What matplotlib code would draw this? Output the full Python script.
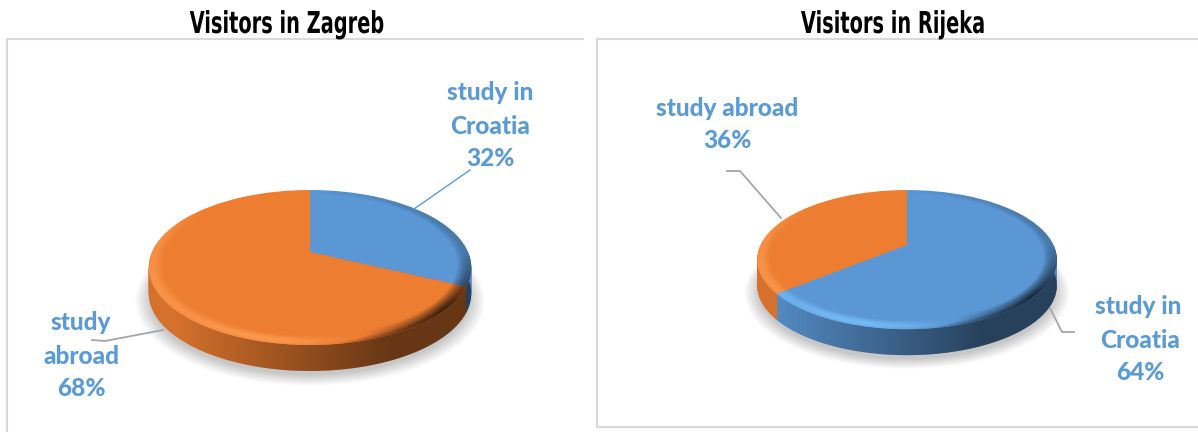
import matplotlib
matplotlib.use('Agg')
import matplotlib.pyplot as plt
import numpy as np
from matplotlib.patches import Circle
from matplotlib.path import Path
from matplotlib.patheffects import AbstractPathEffect
from matplotlib.transforms import Affine2D, Transform

zagreb_title = 'Visitors in Zagreb'
rijeka_title = 'Visitors in Rijeka'
zagreb_values = [32, 68]
rijeka_values = [64, 36]
slice_names = ['study in Croatia', 'study abroad']
slice_colors = ['#5B97D5', '#ED7D31']
lit_colors = ['#7CC6FF', '#FFA258']

BLUE = '#5B9BD5'
GREY = '#A6A6A6'
FRAME = '#D9D9D9'


class Tilt(Transform):
    # flat pie -> tilted disc in image pixels, with a bit of perspective
    input_dims = 2
    output_dims = 2
    is_separable = False
    has_inverse = False

    def __init__(self, cx, cy, rx, sy, k, drop=0):
        super().__init__()
        self.cx, self.cy, self.rx, self.sy, self.k, self.drop = cx, cy, rx, sy, k, drop

    def transform_non_affine(self, values):
        v = np.asarray(values, dtype=float)
        w = 1 + self.k * v[:, 1]
        return np.column_stack([self.cx + self.rx * v[:, 0] / w,
                                self.cy - self.sy * v[:, 1] / w + self.drop])


class Tall(AbstractPathEffect):
    # the title font is a tall narrow one, nothing installed is that narrow
    def __init__(self, sy):
        super().__init__()
        self.sy = sy

    def draw_path(self, renderer, gc, tpath, affine, rgbFace=None):
        renderer.draw_path(gc, tpath, Affine2D().scale(1, self.sy) + affine, rgbFace)


def mix(color, factor):
    rgb = np.array(matplotlib.colors.to_rgb(color))
    return tuple(rgb * factor)


def draw_pie(ax, values, cx, cy, rx, sy, k, depth):
    z = 1
    # shadow on the floor
    for r in np.linspace(1.08, 0.99, 14):
        ax.add_patch(Circle((0, 0), r, fc='black', ec='none', alpha=0.016, zorder=z,
                            transform=Tilt(cx, cy, rx, sy, k, depth + 5) + ax.transData))
    z += 1

    # side wall, stacked copies of the pie
    side = [mix(c, 0.9) for c in slice_colors]
    for d in range(depth, 0, -1):
        wedges, _ = ax.pie(values, colors=side, startangle=90, counterclock=False,
                           wedgeprops={'zorder': z, 'lw': 0})
        for w in wedges:
            w.set_transform(Tilt(cx, cy, rx, sy, k, d) + ax.transData)
        z += 1

    base = Tilt(cx, cy, rx, sy, k)
    t = np.linspace(0, 2 * np.pi, 361)
    rim = base.transform_non_affine(np.column_stack([np.cos(t), np.sin(t)]))
    x0, x1 = rim[:, 0].min(), rim[:, 0].max()
    y0, y1 = rim[:, 1].min(), rim[:, 1].max() + depth
    xx, yy = np.meshgrid(np.arange(x0 - 1, x1 + 1), np.arange(y0 - 1, y1 + 1))
    u = (xx - x0) / (x1 - x0)
    low = np.clip((yy - cy) / (rim[:, 1].max() - cy), 0, 1)
    extent = (x0 - 1.5, x1 + 0.5, y1 + 0.5, y0 - 1.5)

    # back from pixels to the flat pie, to know radius and slice under a pixel
    yp = (cy - yy) / sy
    fy = yp / (1 - k * yp)
    fx = (xx - cx) / rx * (1 + k * fy)
    rho = np.hypot(fx, fy)
    ang = np.arctan2(fx, fy) % (2 * np.pi)
    first = ang < 2 * np.pi * values[0] / sum(values)

    # side wall gets darker to the right
    tlow = np.linspace(np.pi, 2 * np.pi, 181)
    lower = base.transform_non_affine(np.column_stack([np.cos(tlow), np.sin(tlow)]))
    wall = np.vstack([lower, lower[::-1] + [0, depth]])
    wall_path = Path(np.vstack([wall, wall[0]]), closed=True)
    img = np.zeros(xx.shape + (4,))
    img[..., 3] = np.clip((u - 0.08) / 0.67, 0, 1) * 0.52
    im = ax.imshow(img, extent=extent, aspect='auto', zorder=z, interpolation='bilinear')
    im.set_clip_path(wall_path, ax.transData)
    z += 1

    # bevel ring: bright lower left, dark lower right, rolls off at the outer edge
    wedges, _ = ax.pie(values, colors=slice_colors, startangle=90, counterclock=False,
                       wedgeprops={'zorder': z, 'lw': 0})
    for w in wedges:
        w.set_transform(base + ax.transData)
    z += 1
    light = np.exp(-((u - 0.33) / 0.3) ** 2) * np.clip(low * 1.3, 0, 1) * 0.85
    left = np.exp(-(u / 0.12) ** 2) * 0.5
    dark = np.clip((u - 0.5) / 0.42, 0, 1) * np.clip((low + 0.3) * 1.1, 0, 1) * 0.6
    edge = np.clip((rho - 0.965) / 0.035, 0, 1) * low * 0.3
    shine = light + left
    dark = dark + edge
    img = np.zeros(xx.shape + (4,))
    lit = np.array([matplotlib.colors.to_rgb(c) for c in lit_colors])
    brighter = shine > dark
    img[..., :3] = np.where(first[..., None], lit[0], lit[1]) * brighter[..., None]
    img[..., 3] = np.clip(np.abs(shine - dark), 0, 1)
    im = ax.imshow(img, extent=extent, aspect='auto', zorder=z, interpolation='nearest')
    im.set_clip_path(Path(rim, closed=True), ax.transData)
    z += 1

    # flat top, soft edge going in
    for r, a in [(0.965, 0.15), (0.95, 0.3), (0.935, 0.5), (0.92, 1)]:
        wedges, _ = ax.pie(values, colors=slice_colors, startangle=90, counterclock=False,
                           radius=r, wedgeprops={'zorder': z, 'lw': 0, 'alpha': a})
        for w in wedges:
            w.set_transform(base + ax.transData)
        z += 1


def pct(v):
    return '%d%%' % v


fig = plt.figure(figsize=(11.98, 4.32), dpi=100)
ax = fig.add_axes([0, 0, 1, 1])

draw_pie(ax, zagreb_values, 310, 252, 158, 74.4, 0.2, 26)
draw_pie(ax, rijeka_values, 907, 245, 146.5, 66.5, 0.21, 26)

ax.set_aspect('auto')
ax.set_xlim(0, 1198)
ax.set_ylim(432, 0)
ax.axis('off')

# chart frames
ax.plot([7, 7, 583], [432, 39, 39], color=FRAME, lw=1.5, zorder=50, clip_on=False)
ax.plot([1198, 597, 597, 1198], [39, 39, 427, 427], color=FRAME, lw=1.5, zorder=50)

# leader lines
ax.plot([414, 470], [209, 170], color=BLUE, lw=1, zorder=60)
ax.plot([92, 105, 163], [340, 341, 330], color=GREY, lw=1.3, zorder=60)
ax.plot([727, 740, 781], [171, 171, 218], color=GREY, lw=1.3, zorder=60)
ax.plot([1050, 1062, 1074], [308, 332, 332], color=GREY, lw=1.3, zorder=60)

title_font = {'family': 'DejaVu Sans', 'stretch': 'condensed', 'weight': 'bold',
              'fontsize': 15.5, 'color': 'black', 'ha': 'center', 'va': 'baseline',
              'path_effects': [Tall(1.4)]}
ax.text(287, 33, zagreb_title, zorder=70, **title_font)
ax.text(893, 33, rijeka_title, zorder=70, **title_font)

label_font = {'family': 'Lato', 'weight': 'black', 'fontsize': 17.6, 'color': BLUE,
              'ha': 'center', 'va': 'center'}
for x, y, s in [(490, 93, 'study in'), (490, 126, 'Croatia'), (490, 158, pct(zagreb_values[0])),
                (81, 323, 'study'), (81, 356, 'abroad'), (81, 389, pct(zagreb_values[1])),
                (727, 108, slice_names[1]), (727, 141, pct(rijeka_values[1])),
                (1138, 307, 'study in'), (1140, 341, 'Croatia'), (1140, 373, pct(rijeka_values[0]))]:
    ax.text(x, y, s, zorder=70, **label_font)

fig.savefig('out.png', dpi=100)
